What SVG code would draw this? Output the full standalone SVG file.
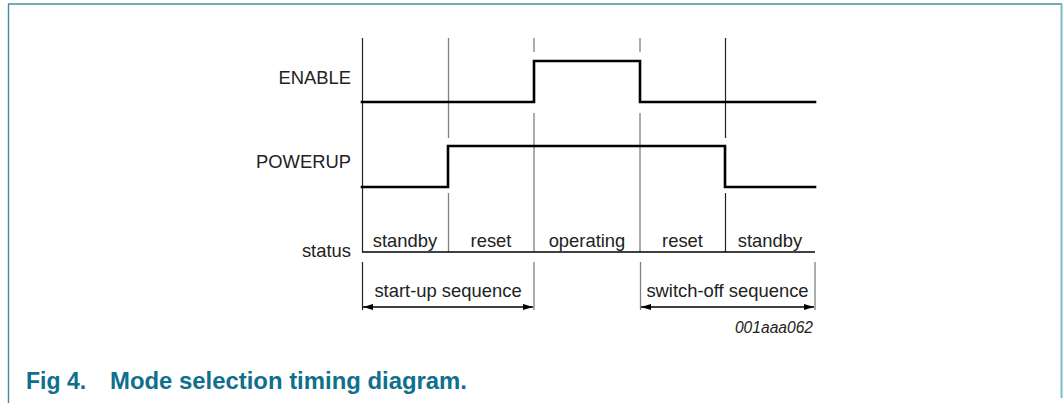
<svg xmlns="http://www.w3.org/2000/svg" width="1063" height="403" viewBox="0 0 1063 403">
<style>
  .lbl { font-family: "Liberation Sans", Arial, sans-serif; font-size: 18.4px; fill: #222; }
  .mid { text-anchor: middle; }
  .end { text-anchor: end; }
  .sig { fill: none; stroke: #000; stroke-width: 2.6; stroke-linejoin: miter; stroke-linecap: square; }
  .grid { stroke: #808080; stroke-width: 1.3; fill: none; }
  .dark { stroke: #222; stroke-width: 1.2; fill: none; }
  .dim { stroke: #000; stroke-width: 1.3; fill: none; }
  .title { font-family: "Liberation Sans", Arial, sans-serif; font-size: 23px; font-weight: bold; fill: #0f6f8c; }
  .code { font-family: "Liberation Sans", Arial, sans-serif; font-size: 15.6px; font-style: italic; fill: #222; }
</style>
<defs>
  <marker id="ah" viewBox="0 0 10 6" refX="10" refY="3" markerWidth="10" markerHeight="6" markerUnits="userSpaceOnUse" orient="auto-start-reverse">
    <path d="M0,0 L10,3 L0,6 Z" fill="#000"/>
  </marker>
</defs>
<rect width="1063" height="403" fill="#fff"/>
<g id="frame">
  <line x1="8" y1="4" x2="1062" y2="4" stroke="#3d8fa2" stroke-width="1.6"/>
  <line x1="8.5" y1="4" x2="8.5" y2="403" stroke="#3d8fa2" stroke-width="1.4"/>
  <line x1="1061.5" y1="4" x2="1061.5" y2="398" stroke="#7fbac7" stroke-width="2"/>
</g>
<g id="grid">
  <line class="dark" x1="362.5" y1="38" x2="362.5" y2="252"/>
  <path class="grid" d="M448.5,38 V138 M448.5,193 V252"/>
  <path class="grid" d="M534,38 V52 M534,113 V252"/>
  <path class="grid" d="M640,38 V52 M640,113 V252"/>
  <path class="dark" d="M725.5,38 V138 M725.5,193 V252" stroke="#000" stroke-width="1"/>
  <line class="dim" x1="362" y1="252" x2="815" y2="252"/>
</g>
<g id="labels">
  <text class="lbl end" x="351" y="84">ENABLE</text>
  <text class="lbl end" x="351" y="168">POWERUP</text>
  <text class="lbl end" x="351" y="257">status</text>
</g>
<g id="enable">
  <path class="sig" d="M362,102 H534 V61 H640 V102 H815"/>
</g>
<g id="powerup">
  <path class="sig" d="M362,187 H448 V146 H725 V187 H815"/>
</g>
<g id="status">
  <text class="lbl mid" x="405" y="247">standby</text>
  <text class="lbl mid" x="491" y="247">reset</text>
  <text class="lbl mid" x="587" y="247">operating</text>
  <text class="lbl mid" x="682.5" y="247">reset</text>
  <text class="lbl mid" x="770" y="247">standby</text>
</g>
<g id="startup">
  <line class="dark" x1="362.5" y1="262" x2="362.5" y2="310"/>
  <line class="grid" x1="534" y1="262" x2="534" y2="310"/>
  <text class="lbl mid" x="448" y="297">start-up sequence</text>
</g>
<g id="switchoff">
  <line class="grid" x1="640.5" y1="262" x2="640.5" y2="310"/>
  <line class="grid" x1="815" y1="262" x2="815" y2="310"/>
  <text class="lbl mid" x="727.5" y="297">switch-off sequence</text>
</g>
<g id="connectors">
  <line class="dim" x1="363" y1="307" x2="533" y2="307" marker-start="url(#ah)" marker-end="url(#ah)"/>
  <line class="dim" x1="641" y1="307" x2="814" y2="307" marker-start="url(#ah)" marker-end="url(#ah)"/>
</g>
<text class="code end" x="813" y="333">001aaa062</text>
<text class="title" x="26" y="389">Fig 4.</text>
<text class="title" x="110" y="389" textLength="357" lengthAdjust="spacingAndGlyphs">Mode selection timing diagram.</text>
</svg>
